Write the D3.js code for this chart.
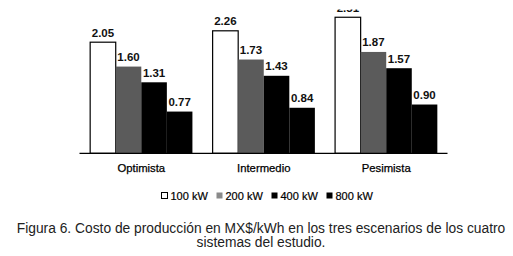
<!DOCTYPE html>
<html>
<head>
<meta charset="utf-8">
<script src="https://cdn.jsdelivr.net/npm/d3@7"></script>
<style>
  body { margin: 0; background: #fff; }
  svg { display: block; font-family: Arial, "Liberation Sans", sans-serif; }
</style>
</head>
<body>
<svg id="chart" width="513" height="256"></svg>
<script>
const scenarios = ['Optimista', 'Intermedio', 'Pesimista'];
const systems = ['100 kW', '200 kW', '400 kW', '800 kW'];
const cost100 = [2.05, 2.26, 2.51];
const cost200 = [1.60, 1.73, 1.87];
const cost400 = [1.31, 1.43, 1.57];
const cost800 = [0.77, 0.84, 0.90];
const fills = ['#ffffff', '#5b5b5b', '#000000', '#000000'];

const series = [cost100, cost200, cost400, cost800];
const rows = [];
scenarios.forEach((s, i) => {
    systems.forEach((k, j) => rows.push({ scenario: s, system: k, value: series[j][i] }));
});

const svg = d3.select('#chart');
const width = 513;
const margin = { left: 80, right: 65.5 };
const baseY = 153.3;

// the figure is cropped at the top, like the scan
svg.append('clipPath').attr('id', 'crop')
    .append('rect').attr('x', 0).attr('y', 9.5).attr('width', width).attr('height', 256);
const g = svg.append('g').attr('clip-path', 'url(#crop)');

const x0 = d3.scaleBand().domain(scenarios).range([margin.left, width - margin.right]).paddingInner(0.165).paddingOuter(0.083);
const x1 = d3.scaleBand().domain(systems).range([0, x0.bandwidth()]);
const y = d3.scaleLinear().domain([0, 2.5]).range([baseY, baseY - 135.5]);

g.selectAll('rect.bar')
    .data(rows)
    .join('rect')
    .attr('class', 'bar')
    .attr('x', d => x0(d.scenario) + x1(d.system))
    .attr('y', d => y(d.value))
    .attr('width', x1.bandwidth())
    .attr('height', d => baseY - y(d.value))
    .attr('fill', d => fills[systems.indexOf(d.system)])
    .attr('stroke', d => d.system === '100 kW' ? '#000' : 'none')
    .attr('stroke-width', 1.2);

g.selectAll('text.val')
    .data(rows)
    .join('text')
    .attr('class', 'val')
    .attr('x', d => x0(d.scenario) + x1(d.system) + x1.bandwidth() / 2)
    .attr('y', d => y(d.value) - 5.5)
    .attr('text-anchor', 'middle')
    .attr('font-size', '11.5px')
    .attr('font-weight', 'bold')
    .attr('fill', '#111')
    .text(d => d.value.toFixed(2));

// x axis line and category labels
const axis = g.append('g')
    .attr('transform', `translate(0,${baseY})`)
    .call(d3.axisBottom(x0).tickSize(0).tickPadding(11));
axis.select('.domain').attr('stroke', '#000').attr('stroke-width', 1.2).attr('d', `M${margin.left - 0.5},0H${width - margin.right}`);
axis.selectAll('text')
    .attr('font-size', '11.3px')
    .attr('font-family', 'Arial, "Liberation Sans", sans-serif')
    .attr('fill', '#000')
    .attr('stroke', '#000')
    .attr('stroke-width', 0.25);

// legend
const legend = svg.append('g').attr('transform', 'translate(161.5,196)');
const items = legend.selectAll('g')
    .data(systems)
    .join('g')
    .attr('transform', (d, i) => `translate(${i * 55},0)`);
items.append('rect')
    .attr('x', 0).attr('y', -3.5)
    .attr('width', 6).attr('height', 6)
    .attr('fill', (d, i) => i === 1 ? '#8a8a8a' : fills[i])
    .attr('stroke', (d, i) => i === 0 ? '#000' : 'none');
items.append('text')
    .attr('x', 9).attr('y', 4)
    .attr('font-size', '11px')
    .attr('fill', '#000')
    .attr('stroke', '#000')
    .attr('stroke-width', 0.2)
    .text(d => d);

// caption
const caption = ['Figura 6. Costo de producción en MX$/kWh en los tres escenarios de los cuatro', 'sistemas del estudio.'];
svg.selectAll('text.cap')
    .data(caption)
    .join('text')
    .attr('class', 'cap')
    .attr('x', 261)
    .attr('y', (d, i) => 232.5 + i * 14.8)
    .attr('text-anchor', 'middle')
    .attr('font-size', '13.8px')
    .attr('fill', '#222')
    .text(d => d);
</script>
</body>
</html>
